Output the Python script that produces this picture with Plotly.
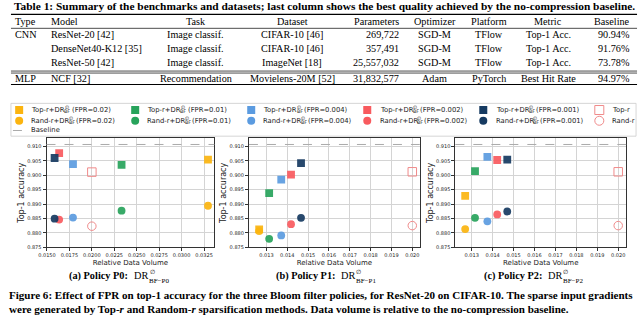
import plotly.graph_objects as go

W, H = 640, 325

# ---- table data ----
table_title = ("Table 1: Summary of the benchmarks and datasets; last column shows "
               "the best quality achieved by the no-compression baseline.")
table_header = ["Type", "Model", "Task", "Dataset", "Parameters",
                "Optimizer", "Platform", "Metric", "Baseline"]
model_types = ["CNN", "", "", "MLP"]
models = ["ResNet-20 [42]", "DenseNet40-K12 [35]", "ResNet-50 [42]", "NCF [32]"]
tasks = ["Image classif.", "Image classif.", "Image classif.", "Recommendation"]
datasets = ["CIFAR-10 [46]", "CIFAR-10 [46]", "ImageNet [18]", "Movielens-20M [52]"]
parameters = ["269,722", "357,491", "25,557,032", "31,832,577"]
optimizers = ["SGD-M", "SGD-M", "SGD-M", "Adam"]
platforms = ["TFlow", "TFlow", "TFlow", "PyTorch"]
metrics = ["Top-1 Acc.", "Top-1 Acc.", "Top-1 Acc.", "Best Hit Rate"]
baselines = ["90.94%", "91.76%", "73.78%", "94.97%"]

# ---- chart data ----
fpr_levels = ["0.02", "0.01", "0.004", "0.002", "0.001"]
fpr_colors = ["#FBB40F", "#27A35B", "#5B9BE0", "#F85A5E", "#163A61"]
policy_names = ["P0", "P1", "P2"]

p0_volume = [0.03294, 0.02331, 0.01790, 0.01636, 0.01585]
p0_top_acc = [0.9054, 0.9036, 0.9039, 0.9077, 0.9060]
p0_rand_acc = [0.8894, 0.8877, 0.8853, 0.8846, 0.8849]

p1_volume = [0.01265, 0.01313, 0.01371, 0.01418, 0.01466]
p1_top_acc = [0.8812, 0.8938, 0.8985, 0.9002, 0.9042]
p1_rand_acc = [0.8806, 0.8779, 0.8791, 0.8830, 0.8852]

p2_volume = [0.01269, 0.01316, 0.01375, 0.01422, 0.01470]
p2_top_acc = [0.8928, 0.9014, 0.9064, 0.9053, 0.9054]
p2_rand_acc = [0.8813, 0.8852, 0.8840, 0.8864, 0.8874]

sparse_volume = 0.0200
topr_acc = [0.9011, 0.9012, 0.9012]
randr_acc = [0.8823, 0.8825, 0.8825]
baseline_acc = 0.9107

p0_xticks = [0.0150, 0.0175, 0.0200, 0.0225, 0.0250, 0.0275, 0.0300, 0.0325]
p12_xticks = [0.013, 0.014, 0.015, 0.016, 0.017, 0.018, 0.019, 0.020]
y_ticks = [0.875, 0.880, 0.885, 0.890, 0.895, 0.900, 0.905, 0.910]

SERIF = "Liberation Serif"
SANS = "DejaVu Sans"
INK = "#222222"


def X(px):
    return px / W


def Y(py):
    return 1 - py / H


fig = go.Figure()
annotations = []
shapes = []


def text(px, py, s, size, anchor="center", family=SERIF, color="black", **kw):
    annotations.append(dict(
        x=X(px), y=Y(py), xref="paper", yref="paper", text=s, showarrow=False,
        xanchor=anchor, yanchor="middle", borderpad=0,
        font=dict(family=family, size=size, color=color), **kw))


def hline(x0, x1, py, width=1, color="black", dash=None):
    shapes.append(dict(type="line", xref="paper", yref="paper",
                       x0=X(x0), x1=X(x1), y0=Y(py), y1=Y(py),
                       line=dict(color=color, width=width, dash=dash)))


# ---- table ----
text(320, 6.5, "<b>" + table_title + "</b>", 11.4)
hline(3, 637, 14.5, 1.2)
hline(3, 637, 28.5, 0.7)
hline(3, 637, 71.5, 0.7)
hline(3, 637, 73.5, 0.7)
hline(3, 637, 85, 1.2)

col_pos = [(18, "center"), (43, "left"), (190, "center"), (288, "center"),
           (397, "right"), (432, "center"), (487, "center"), (547, "center"),
           (631, "right")]
TS = 10.2
for (cx, anc), h in zip(col_pos, table_header):
    text(cx, 21.5, h, TS, anc)
row_y = [35, 49, 63, 79]
cols = [model_types, models, tasks, datasets, parameters, optimizers,
        platforms, metrics, baselines]
for ri, ry in enumerate(row_y):
    for (cx, anc), col in zip(col_pos, cols):
        if col[ri]:
            text(cx, ry, col[ri], TS, anc)

# ---- legend (hidden helper axis in pixel units) ----
shapes.append(dict(type="rect", xref="paper", yref="paper", x0=X(3), x1=X(636),
                   y0=Y(137), y1=Y(104), line=dict(color="#cccccc", width=0.8),
                   fillcolor="rgba(0,0,0,0)"))
leg_x0, leg_dx = 11.3, 117.5
leg_rows = [110.7, 121.5, 131.3]
LS = 6.8


def leg_label(px, py, prefix, suffix):
    text(px, py, prefix + "+DR", LS, "left", SANS, INK)
    w = (4.92 if prefix == "Top-r" else 5.55) * LS
    text(px + w, py + 1.8, "BF", LS * 0.7, "left", SANS, INK)
    text(px + w + 0.5, py - 2.4, "∅", LS * 0.7, "left", SANS, INK)
    text(px + w + 7.5, py, suffix, LS, "left", SANS, INK)


for i, (lvl, col) in enumerate(zip(fpr_levels, fpr_colors)):
    cx = leg_x0 + i * leg_dx
    fig.add_trace(go.Scatter(x=[cx, cx], y=[leg_rows[0], leg_rows[1]], mode="markers",
                             marker=dict(symbol=["square", "circle"], size=8, color=col),
                             xaxis="x4", yaxis="y4", showlegend=False, hoverinfo="skip"))
    leg_label(cx + 11.4, leg_rows[0], "Top-r", "(FPR=%s)" % lvl)
    leg_label(cx + 11.4, leg_rows[1], "Rand-r", "(FPR=%s)" % lvl)
cx = leg_x0 + 5 * leg_dx
fig.add_trace(go.Scatter(x=[cx, cx], y=[leg_rows[0], leg_rows[1]], mode="markers",
                         marker=dict(symbol=["square-open", "circle-open"], size=9,
                                     color="#F08A8A", line=dict(width=1)),
                         xaxis="x4", yaxis="y4", showlegend=False, hoverinfo="skip"))
text(cx + 11.4, leg_rows[0], "Top-r", LS, "left", SANS, INK)
text(cx + 11.4, leg_rows[1], "Rand-r", LS, "left", SANS, INK)
hline(5, 17.5, leg_rows[2], 1, "#aaaaaa", "dash")
text(22.7, leg_rows[2], "Baseline", LS, "left", SANS, INK)

# ---- subplots ----
volumes = [p0_volume, p1_volume, p2_volume]
top_accs = [p0_top_acc, p1_top_acc, p2_top_acc]
rand_accs = [p0_rand_acc, p1_rand_acc, p2_rand_acc]
x_domains = [(39, 209), (244, 417), (453, 626)]
x_ranges = [[0.01495, 0.03365], [0.01216, 0.02036], [0.01222, 0.02038]]
x_ticks = [p0_xticks, p12_xticks, p12_xticks]
x_fmt = ["%.4f", "%.3f", "%.3f"]
y_dom = [Y(249), Y(139)]

layout_axes = {}
for k in range(3):
    sx = "" if k == 0 else str(k + 1)
    xa, ya = "x" + sx, "y" + sx
    for j, col in enumerate(fpr_colors):
        fig.add_trace(go.Scatter(x=[volumes[k][j]], y=[top_accs[k][j]], mode="markers",
                                 marker=dict(symbol="square", size=7.8, color=col, opacity=0.92),
                                 xaxis=xa, yaxis=ya, showlegend=False))
        fig.add_trace(go.Scatter(x=[volumes[k][j]], y=[rand_accs[k][j]], mode="markers",
                                 marker=dict(symbol="circle", size=7.8, color=col, opacity=0.92),
                                 xaxis=xa, yaxis=ya, showlegend=False))
    fig.add_trace(go.Scatter(x=[sparse_volume, sparse_volume], y=[topr_acc[k], randr_acc[k]],
                             mode="markers",
                             marker=dict(symbol=["square-open", "circle-open"], size=8.5,
                                         color="#F08A8A", line=dict(width=1)),
                             xaxis=xa, yaxis=ya, showlegend=False))
    shapes.append(dict(type="line", xref=xa + " domain", yref=ya, x0=0, x1=1,
                       y0=baseline_acc, y1=baseline_acc,
                       line=dict(color="#aaaaaa", width=1, dash="dash")))
    d0, d1 = x_domains[k]
    common = dict(showline=True, mirror=True, linecolor="#333333", linewidth=1,
                  ticks="outside", ticklen=3, tickwidth=0.8, tickcolor="#333333",
                  showgrid=True, gridcolor="#d4d4d4", gridwidth=1, zeroline=False,
                  tickfont=dict(family=SANS, size=5, color=INK))
    layout_axes["xaxis" + sx] = dict(
        domain=[X(d0), X(d1)], range=x_ranges[k], anchor=ya,
        tickvals=x_ticks[k], ticktext=[x_fmt[k] % v for v in x_ticks[k]],
        title=dict(text="Relative Data Volume", font=dict(family=SANS, size=7, color=INK),
                   standoff=2), **common)
    layout_axes["yaxis" + sx] = dict(
        domain=y_dom, range=[0.8749, 0.9129], anchor=xa,
        tickvals=y_ticks, ticktext=["%.3f" % v for v in y_ticks],
        title=dict(text="Top-1 accuracy", font=dict(family=SANS, size=8, color=INK),
                   standoff=1), **common)

    # sub-captions
    cxc = [111, 320, 530][k]
    text(cxc + 12, 277.5, "<b>(%s) Policy %s:</b>" % ("abc"[k], policy_names[k]), 10.3, "right")
    text(cxc + 16, 277.5, "DR", 10.3, "left")
    text(cxc + 31, 283, "BF−%s" % policy_names[k], 7, "left")
    text(cxc + 31.5, 273.5, "∅", 6.3, "left")

layout_axes["xaxis4"] = dict(domain=[0, 1], range=[0, W], visible=False, fixedrange=True)
layout_axes["yaxis4"] = dict(domain=[0, 1], range=[H, 0], visible=False, fixedrange=True,
                             anchor="x4")

# ---- figure caption ----
text(0, 297, "<b>Figure 6: Effect of FPR on top-1 accuracy for the three Bloom filter policies, "
     "for ResNet-20 on CIFAR-10. The sparse input gradients</b>", 11.05, "left")
text(0, 311, "<b>were generated by Top-<i>r</i> and Random-<i>r</i> sparsification methods. "
     "Data volume is relative to the no-compression baseline.</b>", 11.05, "left")

fig.update_layout(
    width=W, height=H, margin=dict(l=0, r=0, t=0, b=0),
    paper_bgcolor="white", plot_bgcolor="rgba(0,0,0,0)",
    annotations=annotations, shapes=shapes, showlegend=False,
    **layout_axes)

# the page body has a default 8px margin; remove it so the figure fills the window
fig.write_html("out.html", config={"displayModeBar": False},
               post_script="document.body.style.margin='0';")
